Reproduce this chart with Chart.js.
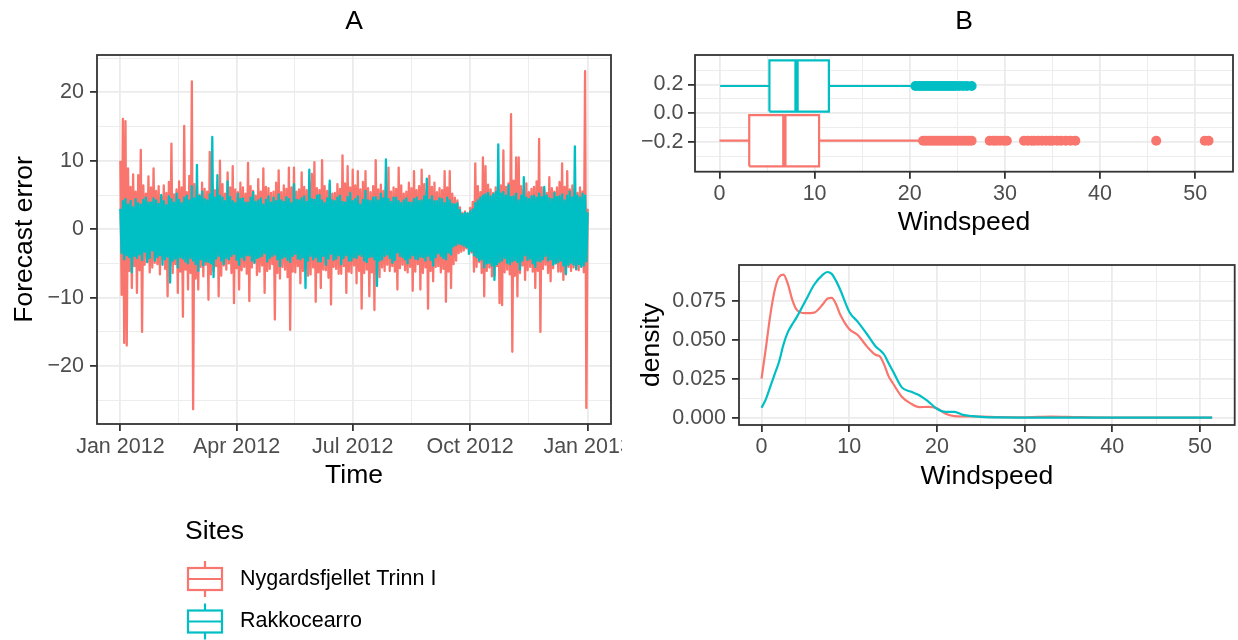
<!DOCTYPE html>
<html>
<head>
<meta charset="utf-8">
<script src="https://cdn.jsdelivr.net/npm/chart.js@4.4.1/dist/chart.umd.min.js"></script>
<style>
  html, body { margin: 0; padding: 0; background: #fff; }
  #wrap { position: relative; width: 1238px; height: 640px; overflow: hidden; background: #fff; }
  canvas { position: absolute; }
</style>
</head>
<body>
<div id="wrap">
  <canvas id="errChart" width="622" height="640" style="left:0;top:0"></canvas>
  <canvas id="boxChart" width="598" height="250" style="left:640px;top:0"></canvas>
  <canvas id="densChart" width="608" height="395" style="left:630px;top:245px"></canvas>
</div>
<script>
const sites = ['Nygardsfjellet Trinn I', 'Rakkocearro'];
const siteColors = ['#F8766D', '#00BFC4'];

// panel A: forecast error peaks (even days of 2012) and troughs (odd days)
const errNygardHi = [
  10, 16.1, 15.8, 8.9, 6.2, 8, 5.5, 7.9, 11.6, 6.4,
  5.2, 7.7, 6.1, 8.9, 5.6, 6.3, 4.8, 6.4, 5.3, 6.9,
  12.5, 5.1, 5.8, 7, 6.1, 15.1, 5.4, 7.8, 21.6, 6.6,
  6.2, 5, 6.8, 5.9, 5.5, 11.3, 6.4, 5.7, 5.9, 10,
  6.6, 5.2, 8.3, 6.1, 9.2, 5.8, 5.4, 6.8, 6.1, 5.2,
  9.7, 6.3, 5.6, 4.9, 7.3, 5.5, 8.9, 6.2, 6, 5.3,
  5.5, 6.8, 8.6, 5.4, 6.4, 5.9, 9, 6.1, 9, 5.5,
  5.8, 8.3, 6.2, 5.7, 6.9, 8.1, 9.8, 6, 5.7, 10.1,
  6.3, 5.6, 6.6, 5.2, 5.3, 6.6, 5.9, 10.8, 6.7, 9.2,
  6.1, 8.7, 6.4, 8.5, 5.8, 6.9, 8.5, 6, 5.4, 6.3,
  10.1, 5.8, 6.5, 5.6, 6.2, 9, 5.5, 6.1, 5.9, 9,
  6.4, 5.2, 5.5, 6.8, 6, 8.5, 5.7, 6.3, 8.7, 6.6,
  5.6, 7.8, 6.2, 6.8, 5.4, 6, 5.7, 8.5, 6.1, 8.5,
  5.2, 4.6, 4.2, 3.2, 2.4, 2.6, 2.3, 3.1, 4, 9.6,
  6.3, 5.4, 10.5, 9.2, 6.5, 5.8, 5.3, 6.1, 5, 6.4,
  11.5, 6.2, 6.7, 16.8, 7.1, 10.5, 10.5, 6.3, 5.8, 6.7,
  5.4, 5.9, 6.2, 7, 13.2, 6.1, 5.8, 5.3, 7.6, 6,
  5.5, 6.1, 6.9, 9.6, 6.2, 8.5, 5.8, 6.4, 5.9, 5.3,
  6.1, 5.5, 23.1, 3
];
const errNygardLo = [
  -9.6, -16.6, -17, -6.1, -8.6, -5.4, -9.3, -6, -15, -5.2,
  -4.8, -6.3, -5.6, -4.9, -5.1, -6.6, -4.4, -5.8, -9.8, -5.3,
  -6.4, -5.1, -9.3, -6.2, -12.8, -5.9, -8.8, -6.4, -26.3, -7.2,
  -8.8, -5.5, -6.9, -5.2, -10.3, -6.6, -6.1, -5.4, -9.8, -6.8,
  -5.3, -5.9, -5, -6.4, -10.8, -5.7, -8.8, -6, -5.5, -6.5,
  -10.5, -5.6, -4.9, -6.7, -6.2, -5.3, -9.3, -6.1, -5.8, -5.1,
  -13.2, -6.4, -7.2, -5.5, -5.9, -7, -14.7, -6.2, -6.3, -5.4,
  -7.9, -6.1, -5.7, -6.8, -6.6, -5.6, -10.6, -6.3, -8.6, -5.9,
  -6, -7.1, -11, -5.5, -5.8, -6.5, -6.5, -5.4, -9.3, -6.2,
  -6.4, -5.3, -7.9, -6.1, -11.6, -6.4, -5.9, -9.8, -6.3, -11.8,
  -6.6, -7, -5.6, -6.1, -5.2, -6.1, -5.4, -6.2, -8.8, -5.7,
  -5.2, -6, -6.3, -5.5, -9, -6.2, -5.1, -8.8, -6.4, -5.6,
  -11.6, -6.1, -7.6, -5.5, -5.4, -6.3, -5.8, -10.6, -6.2, -8.6,
  -5.1, -4.6, -3.5, -3.3, -3.1, -2.8, -2.9, -3.4, -6.2, -5.5,
  -4.8, -6.4, -9.8, -6.1, -5.6, -6.9, -6.8, -5.4, -10.8, -11.1,
  -6.3, -5.9, -6.6, -17.9, -6.8, -9.8, -6.4, -5.3, -7.4, -6,
  -5.5, -6.2, -8.6, -6.1, -15, -5.8, -5.2, -6.4, -7.6, -5.7,
  -5, -6.2, -6.2, -7.4, -6.6, -5.5, -6.1, -5.6, -5.9, -6,
  -5.4, -6.3, -26.1
];
const errRakkoHi = [
  3, 4.1, 4.4, 3.6, 4.1, 3.2, 4.4, 3.8, 3.6, 4.3,
  4.6, 3.9, 3.9, 4.5, 4.2, 3.7, 5, 4.1, 3.5, 4.8,
  4.4, 3.9, 5.2, 4.3, 3.8, 4.6, 4.9, 4.2, 6.3, 4.5,
  9.4, 4.8, 5.5, 4.4, 4.2, 5.1, 13.5, 4.6, 7.9, 4.9,
  4.6, 4.1, 7, 4.7, 4.1, 3.8, 5.2, 4.4, 4.5, 3.9,
  3.9, 4.6, 5.4, 4, 4.2, 4.5, 3.6, 4.3, 4.8, 3.9,
  4.6, 4.1, 5.1, 4.2, 4, 4.7, 4.4, 3.8, 6.6, 4.3,
  4.2, 4.5, 4.8, 4, 8.7, 4.4, 4.3, 4.9, 5, 4.2,
  3.8, 4.5, 7.1, 4.2, 4.1, 4.6, 4.9, 4, 3.9, 4.7,
  5.3, 4.1, 4.4, 4.8, 3.6, 4.3, 5.6, 4.2, 4.1, 4.6,
  4.7, 4.2, 5.2, 4.5, 10.2, 4.4, 4, 4.6, 4.6, 4.1,
  3.8, 4.2, 4.5, 3.9, 3.9, 4.4, 4.6, 4.1, 4.2, 4.8,
  7.4, 4.3, 4.8, 4.1, 4.1, 4.5, 4.4, 3.8, 4.6, 4.2,
  3.7, 3.6, 3.8, 2.8, 2.2, 2.4, 2.3, 2.6, 2.9, 3.8,
  4.2, 4.6, 4.9, 5.1, 5.3, 4.8, 5.1, 5.4, 12.4, 5.2,
  5.4, 4.9, 6.4, 4.7, 4.8, 5.2, 4.2, 4.9, 7.6, 4.6,
  4.4, 4.8, 4.9, 4.6, 5.2, 4.7, 6.2, 4.9, 4.5, 4.4,
  5.3, 4.7, 4.8, 5.1, 4.2, 4.9, 5.5, 4.6, 12.1, 4.9,
  4.6, 5.2, 4.9, 2.5
];
const errRakkoLo = [
  -3.5, -4.4, -3.8, -4.1, -6.3, -3.9, -4.2, -3.7, -4.5, -3.3,
  -4.8, -4.2, -3.1, -4.6, -4.1, -3.8, -5.2, -4.4, -4, -7.8,
  -4.6, -4.3, -5.6, -4.1, -4.3, -4.7, -5, -4.2, -4.6, -5.1,
  -6.1, -4.4, -5.3, -4.7, -4.8, -5, -7, -4.3, -3.9, -4.6,
  -5.1, -4.2, -4.4, -3.9, -3.6, -4.5, -5.2, -4.1, -4.5, -3.8,
  -3.8, -4.6, -4.9, -4.2, -4.1, -3.9, -3.5, -4.7, -4.2, -3.9,
  -3.7, -4.4, -5.4, -4.2, -4, -4.5, -4.8, -3.9, -3.6, -4.3,
  -4.4, -4.1, -8.6, -4.6, -3.9, -4.4, -4.1, -4.7, -4.7, -3.9,
  -5.2, -4.3, -3.6, -4.5, -4.3, -3.8, -5.1, -4.2, -3.8, -4.6,
  -4.6, -4.1, -4.2, -3.7, -3.9, -4.6, -4.8, -4.1, -4, -4.4,
  -8.3, -4.6, -4.4, -3.9, -3.7, -4.2, -4.9, -4.5, -3.4, -3.9,
  -4.1, -4.4, -5, -4.2, -3.8, -4.3, -4.4, -4, -4.1, -4.6,
  -3.9, -4.5, -5.3, -4.1, -3.5, -3.9, -4.2, -4.4, -3.4, -3.7,
  -2.5, -2.3, -2.1, -2.2, -2.4, -2.6, -3.6, -3.2, -3.8, -4.1,
  -4.6, -4.4, -5.6, -5, -4.9, -5.3, -7.4, -5.1, -4.8, -4.6,
  -4.2, -4.9, -5.1, -4.7, -4.5, -4.8, -5.9, -4.6, -3.8, -4.5,
  -4.3, -5, -5.5, -4.6, -4.7, -4.4, -3.9, -4.6, -4.4, -5.2,
  -5, -4.8, -4.6, -5.3, -6.5, -5.2, -4.9, -5.2, -5.8, -5.1,
  -5.5, -5.3, -4.7
];
const monthLabels = ['Jan 2012', 'Apr 2012', 'Jul 2012', 'Oct 2012', 'Jan 2013'];
const monthDays = [0, 91, 182, 274, 366];

// panel B top: windspeed boxplots
const whiskLo = [0, 0.07];
const boxQ1 = [3.13, 5.25];
const boxMed = [6.82, 8.1];
const boxQ3 = [10.47, 11.5];
const whiskHi = [21.1, 20.4];
const outNygard = [21.4, 21.7, 22.0, 22.3, 22.6, 22.9, 23.2, 23.5, 23.8, 24.1, 24.4, 24.7, 25.0, 25.3,
  25.6, 25.9, 26.2, 26.5, 28.4, 28.8, 29.1, 29.5, 29.9, 30.2, 32.0, 32.4, 32.8, 33.1, 33.5, 33.9,
  34.3, 34.7, 35.0, 35.5, 35.9, 36.4, 36.9, 37.4, 45.9, 51.0, 51.4];
const outRakko = [20.6, 20.9, 21.2, 21.5, 21.8, 22.1, 22.4, 22.7, 23.0, 23.3, 23.6, 23.9, 24.2, 24.5,
  24.8, 25.2, 25.6, 26.0, 26.5];

// panel B bottom: windspeed density
const densX = [0, 0.5, 1, 1.5, 2, 2.5, 3, 3.5, 4, 5, 6, 7, 7.5, 8, 8.5, 9, 10, 11, 12, 13, 13.5, 14,
  14.5, 15, 16, 17, 18, 19, 20, 21, 22, 23, 24, 25, 27, 30, 33, 36, 40, 45, 51.4];
const densNygard = [0.0251, 0.045, 0.066, 0.082, 0.0905, 0.092, 0.086, 0.076, 0.0695, 0.0672, 0.0676,
  0.073, 0.0765, 0.077, 0.073, 0.066, 0.057, 0.053, 0.046, 0.0405, 0.0394, 0.034, 0.0266, 0.022,
  0.0135, 0.0092, 0.0068, 0.007, 0.006, 0.0025, 0.001, 0.0008, 0.0008, 0.0008, 0.0004, 0.0003,
  0.0008, 0.0004, 0.0001, 0.0001, 0.0001];
const densRakko = [0.0064, 0.012, 0.02, 0.028, 0.036, 0.047, 0.055, 0.06, 0.0645, 0.075, 0.0855,
  0.092, 0.0937, 0.0925, 0.088, 0.082, 0.0682, 0.0615, 0.054, 0.046, 0.0435, 0.0405, 0.035, 0.0298,
  0.0195, 0.0168, 0.0145, 0.0105, 0.0058, 0.0038, 0.0038, 0.0018, 0.001, 0.0006, 0.0002, 0.0001,
  0.0001, 0, 0, 0, 0];

const errHi = [errNygardHi, errRakkoHi];
const errLo = [errNygardLo, errRakkoLo];
const outliers = [outNygard, outRakko];
const densSeries = [densNygard, densRakko];

// peaks sit on even days, troughs on the odd day after
function errPoints(hi, lo) {
  const pts = [];
  hi.forEach((v, k) => {
    pts.push({ x: 2 * k, y: v });
    if (k < lo.length) pts.push({ x: 2 * k + 1, y: lo[k] });
  });
  return pts;
}

Chart.defaults.font.family = '"Liberation Sans", Arial, sans-serif';
Chart.defaults.color = '#4D4D4D';
Chart.defaults.animation = false;

const minus = s => s.replace('-', '\u2212');

// ggplot-like axis: major + minor grid, ticks only on majors, fixed box size
function ggScale(o) {
  return {
    type: 'linear',
    min: o.min,
    max: o.max,
    afterBuildTicks: s => {
      s.ticks = o.major.map(v => ({ value: v, minor: false }))
        .concat(o.minor.map(v => ({ value: v, minor: true })))
        .sort((a, b) => a.value - b.value);
    },
    afterFit: s => {
      if (o.horizontal) { s.height = o.size; s.paddingLeft = 0; s.paddingRight = 0; }
      else { s.width = o.size; s.paddingTop = 0; s.paddingBottom = 0; }
    },
    border: { display: false },
    grid: {
      color: '#EBEBEB',
      lineWidth: c => (c.tick && c.tick.minor ? 0.9 : 1.8),
      tickColor: c => (c.tick && c.tick.minor ? 'rgba(0,0,0,0)' : '#333333'),
      tickWidth: 1.8,
      tickLength: 7
    },
    ticks: {
      autoSkip: false,
      maxRotation: 0,
      minRotation: 0,
      padding: o.tickPad,
      color: '#4D4D4D',
      font: { size: 21.5 },
      callback: (v, i, ticks) => (ticks[i].minor ? '' : o.label(v))
    },
    title: o.title
      ? { display: true, text: o.title, color: '#000', font: { size: 26.5 }, padding: o.titlePad }
      : { display: false }
  };
}

const panelBorder = {
  id: 'panelBorder',
  afterDatasetsDraw(chart) {
    const { ctx, chartArea: a } = chart;
    ctx.save();
    ctx.strokeStyle = '#333333';
    ctx.lineWidth = 1.8;
    ctx.strokeRect(a.left, a.top, a.right - a.left, a.bottom - a.top);
    ctx.restore();
  }
};

// legend with boxplot keys under panel A
const sitesLegend = {
  id: 'sitesLegend',
  afterDraw(chart) {
    const ctx = chart.ctx;
    ctx.save();
    ctx.textBaseline = 'middle';
    ctx.fillStyle = '#000';
    ctx.font = '26.5px "Liberation Sans", Arial, sans-serif';
    ctx.fillText('Sites', 185, 532);
    ctx.font = '21.5px "Liberation Sans", Arial, sans-serif';
    sites.forEach((name, i) => {
      const cy = 579 + i * 42.5;
      ctx.strokeStyle = siteColors[i];
      ctx.lineWidth = 2.2;
      ctx.beginPath();
      ctx.moveTo(205, cy - 18);
      ctx.lineTo(205, cy + 18);
      ctx.stroke();
      ctx.fillStyle = '#fff';
      ctx.fillRect(188, cy - 11, 34, 22);
      ctx.strokeRect(188, cy - 11, 34, 22);
      ctx.beginPath();
      ctx.moveTo(188, cy);
      ctx.lineTo(222, cy);
      ctx.stroke();
      ctx.fillStyle = '#000';
      ctx.fillText(name, 240, cy);
    });
    ctx.restore();
  }
};

const titleOpts = text => ({
  display: true, text: text, fullSize: false, color: '#000',
  font: { size: 26.5, weight: 'normal' }, padding: { top: 6.1, bottom: 17.1 }
});

// panel A
new Chart(document.getElementById('errChart'), {
  type: 'line',
  data: {
    datasets: sites.map((name, i) => ({
      label: name,
      data: errPoints(errHi[i], errLo[i]),
      borderColor: siteColors[i],
      borderWidth: 2.3,
      borderJoinStyle: 'round',
      pointRadius: 0,
      tension: 0,
      order: sites.length - i
    }))
  },
  options: {
    responsive: false,
    devicePixelRatio: 1,
    events: [],
    layout: { padding: { left: 0, right: 11, top: 0, bottom: 136 } },
    plugins: { legend: { display: false }, tooltip: { enabled: false }, title: titleOpts('A') },
    scales: {
      x: ggScale({
        horizontal: true, size: 80, min: -18.3, max: 384.3,
        major: monthDays, minor: [45.5, 136.5, 228, 320],
        label: v => monthLabels[monthDays.indexOf(v)],
        tickPad: 3, title: 'Time', titlePad: { top: 0, bottom: 12.1 }
      }),
      y: ggScale({
        size: 97, min: -28.45, max: 25.45,
        major: [-20, -10, 0, 10, 20], minor: [-25, -15, -5, 5, 15, 25],
        label: v => minus(String(v)),
        tickPad: 6, title: 'Forecast error', titlePad: { top: 8.6, bottom: 0 }
      })
    }
  },
  plugins: [panelBorder, sitesLegend]
});

// panel B top: boxplots
const boxCenter = [-0.19, 0.19];
const boxHalf = 0.178;
const boxDatasets = [];
sites.forEach((name, i) => {
  const c = boxCenter[i], col = siteColors[i];
  const y0 = c - boxHalf, y1 = c + boxHalf;
  const seg = (pts, w, order, extra) => Object.assign({
    data: pts, borderColor: col, borderWidth: w, pointRadius: 0,
    showLine: true, tension: 0, borderJoinStyle: 'miter', order: order
  }, extra || {});
  boxDatasets.push(
    seg([{ x: whiskLo[i], y: c }, { x: boxQ1[i], y: c }], 2.2, 3),
    seg([{ x: boxQ3[i], y: c }, { x: whiskHi[i], y: c }], 2.2, 3),
    seg([{ x: boxQ1[i], y: y0 }, { x: boxQ3[i], y: y0 }, { x: boxQ3[i], y: y1 },
      { x: boxQ1[i], y: y1 }, { x: boxQ1[i], y: y0 }], 2.2, 3,
      { fill: 'shape', backgroundColor: '#FFFFFF' }),
    seg([{ x: boxMed[i], y: y0 }, { x: boxMed[i], y: y1 }], 4.4, 2),
    {
      label: name,
      data: outliers[i].map(v => ({ x: v, y: c })),
      showLine: false, pointRadius: 5, pointBorderWidth: 0,
      pointBackgroundColor: col, backgroundColor: col, borderColor: col, order: 1
    }
  );
});

new Chart(document.getElementById('boxChart'), {
  type: 'scatter',
  data: { datasets: boxDatasets },
  options: {
    responsive: false,
    devicePixelRatio: 1,
    events: [],
    layout: { padding: { left: 0, right: 3.3, top: 0, bottom: 9.6 } },
    plugins: { legend: { display: false }, tooltip: { enabled: false }, title: titleOpts('B') },
    scales: {
      x: ggScale({
        horizontal: true, size: 68.7, min: -2.57, max: 53.97,
        major: [0, 10, 20, 30, 40, 50], minor: [5, 15, 25, 35, 45],
        label: v => String(v),
        tickPad: 2, title: 'Windspeed', titlePad: { top: 0, bottom: 2 }
      }),
      y: ggScale({
        size: 55, min: -0.405, max: 0.405,
        major: [-0.2, 0, 0.2], minor: [-0.3, -0.1, 0.1, 0.3],
        label: v => minus(v.toFixed(1)),
        tickPad: 4.5
      })
    }
  },
  plugins: [panelBorder]
});

// panel B bottom: density
new Chart(document.getElementById('densChart'), {
  type: 'line',
  data: {
    datasets: sites.map((name, i) => ({
      label: name,
      data: densX.map((x, k) => ({ x: x, y: densSeries[i][k] })),
      borderColor: siteColors[i],
      borderWidth: 2.2,
      pointRadius: 0,
      cubicInterpolationMode: 'monotone',
      order: sites.length - i
    }))
  },
  options: {
    responsive: false,
    devicePixelRatio: 1,
    events: [],
    layout: { padding: { left: 0, right: 3.3, top: 20, bottom: 145.8 } },
    plugins: { legend: { display: false }, tooltip: { enabled: false } },
    scales: {
      x: ggScale({
        horizontal: true, size: 69.2, min: -2.57, max: 53.97,
        major: [0, 10, 20, 30, 40, 50], minor: [5, 15, 25, 35, 45],
        label: v => String(v),
        tickPad: 2, title: 'Windspeed', titlePad: { top: 0, bottom: 2 }
      }),
      y: ggScale({
        size: 109, min: -0.00468, max: 0.0982,
        major: [0, 0.025, 0.05, 0.075], minor: [0.0125, 0.0375, 0.0625, 0.0875],
        label: v => v.toFixed(3),
        tickPad: 6, title: 'density', titlePad: { top: 6.1, bottom: 0 }
      })
    }
  },
  plugins: [panelBorder]
});
</script>
</body>
</html>
